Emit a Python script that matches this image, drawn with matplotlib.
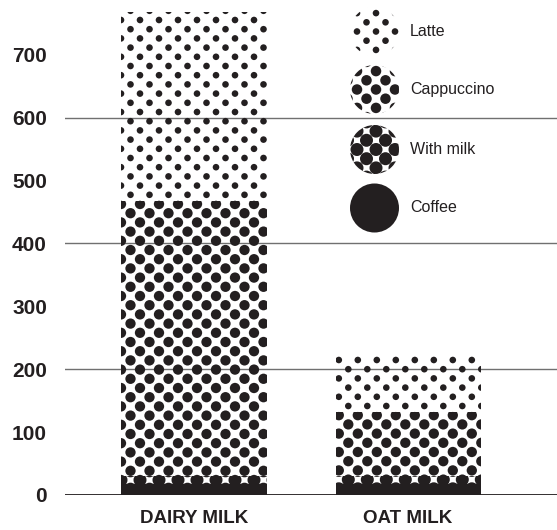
import numpy as np
import matplotlib
matplotlib.use('Agg')
import matplotlib.pyplot as plt
from matplotlib.patches import Circle

# ---------------- data ----------------
categories = ['DAIRY MILK', 'OAT MILK']
series_names = ['Coffee', 'With milk', 'Cappuccino', 'Latte']
coffee = [17, 18]
with_milk = [13, 12]
cappuccino = [438, 102]
latte = [300, 90]
ytick_values = [0, 100, 200, 300, 400, 500, 600, 700]
gridline_values = [200, 400, 600]

INK = '#231f20'
W, H, DPI = 557, 530, 100

fig = plt.figure(figsize=(W / DPI, H / DPI), dpi=DPI)
fig.patch.set_facecolor('white')
ax = fig.add_axes([65 / W, 35 / H, 492 / W, 495 / H])
ax.set_xlim(-0.603, 1.696)
ax.set_ylim(0, 787)
for s in ax.spines.values():
    s.set_visible(False)

x = np.arange(len(categories))
bar_w = 0.678
layers = [coffee, with_milk, cappuccino, latte]
dot_px = [None, 13.0, 10.3, 6.6]   # dot diameter (pixels) for each pattern

bottom = np.zeros(len(categories))
containers = []
for li, vals in enumerate(layers):
    fc = INK if li == 0 else 'none'
    bc = ax.bar(x, vals, bar_w, bottom=bottom, color=fc, edgecolor='none',
                linewidth=0, zorder=2)
    containers.append(bc)
    bottom = bottom + np.array(vals)

# pattern lattice (pixel spacing), per bar phase
DX, DY = 19.0, 9.2
bar_phase = [(20.0, -0.5), (360.0, 3.3)]  # (anchor row y from top, x offset of anchor row from bar left)


def px_to_data(xp, yp_top):
    disp = np.column_stack([xp, H - np.asarray(yp_top)])
    return ax.transData.inverted().transform(disp)


for li in range(1, len(layers)):
    d = dot_px[li]
    size = (d * 72 / DPI) ** 2
    for bi, patch in enumerate(containers[li]):
        x0, y0 = patch.get_x(), patch.get_y()
        x1, y1 = x0 + patch.get_width(), y0 + patch.get_height()
        (lx, by), (rx, ty) = ax.transData.transform([(x0, y0), (x1, y1)])
        top_px, bot_px = H - ty, H - by
        anchor_y, offx = bar_phase[bi]
        xs, ys = [], []
        for k in range(-80, 80):
            yr = anchor_y + k * DY
            if yr < top_px - d or yr > bot_px + d:
                continue
            start = lx + offx + (k % 2) * (DX / 2)
            for j in range(-2, 12):
                xc = start + j * DX
                if lx - d <= xc <= rx + d:
                    xs.append(xc)
                    ys.append(yr)
        if not xs:
            continue
        pts = px_to_data(np.array(xs), np.array(ys))
        sc = ax.scatter(pts[:, 0], pts[:, 1], s=size, color=INK, edgecolors='none',
                        zorder=3)
        sc.set_clip_path(patch)

# gridlines
for v in gridline_values:
    ax.axhline(v, color='#707070', lw=1.0, zorder=1)
ax.axhline(0, color=INK, lw=1.3, zorder=4)

# ticks
ax.set_yticks(ytick_values)
ax.set_yticklabels([str(v) for v in ytick_values], fontfamily='Liberation Sans',
                   fontweight='bold', fontsize=15, color=INK)
ax.tick_params(axis='y', length=0, pad=13)
ax.set_xticks(x)
ax.set_xticklabels(categories, fontfamily='Liberation Sans',
                   fontweight='bold', fontsize=13.5, color=INK)
ax.tick_params(axis='x', length=0, pad=11)

# ---------------- legend (pixel overlay) ----------------
lg = fig.add_axes([0, 0, 1, 1], zorder=5)
lg.set_xlim(0, W)
lg.set_ylim(H, 0)
lg.axis('off')
lg.patch.set_alpha(0)

legend_y = [31.5, 89.5, 149.5, 208]
legend_order = ['Latte', 'Cappuccino', 'With milk', 'Coffee']
legend_dot = {'Latte': 6.6, 'Cappuccino': 10.5, 'With milk': 13.0, 'Coffee': None}
cx, rad = 374.5, 24.5
for name, cy in zip(legend_order, legend_y):
    d = legend_dot[name]
    if d is None:
        lg.add_patch(Circle((cx, cy), rad, facecolor=INK, edgecolor='none'))
    else:
        clip = Circle((cx, cy), rad, facecolor='none', edgecolor='none')
        lg.add_patch(clip)
        xs, ys = [], []
        for k in range(-4, 5):
            yr = cy + k * DY
            start = cx + 1.5 + (k % 2) * (DX / 2)
            for j in range(-3, 4):
                xs.append(start + j * DX)
                ys.append(yr)
        sc = lg.scatter(xs, ys, s=(d * 72 / DPI) ** 2, color=INK, edgecolors='none')
        sc.set_clip_path(clip)
    lg.text(410, cy, name, fontfamily='Liberation Sans', fontsize=11.5,
            color=INK, va='center', ha='left')

fig.savefig('out.png', dpi=DPI, facecolor='white')
